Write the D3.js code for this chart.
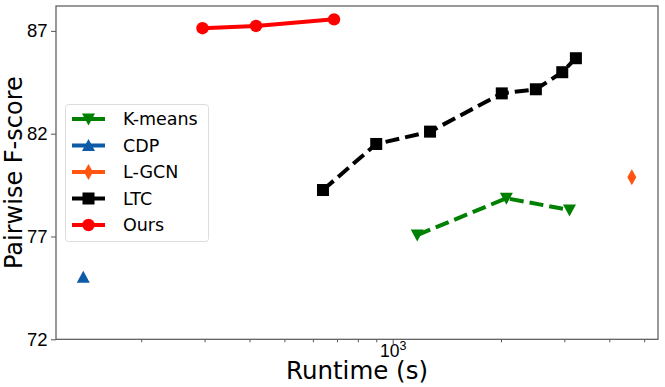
<!DOCTYPE html>
<html><head><meta charset="utf-8">
<script src="https://cdn.jsdelivr.net/npm/d3@7"></script>
<style>
html,body{margin:0;padding:0;background:#fff;}
svg{display:block;font-family:"DejaVu Sans",sans-serif;}
</style></head>
<body><svg id="c" width="665" height="387"></svg>
<script>
const seriesNames = ["K-means","CDP","L-GCN","LTC","Ours"];
const kmeansX = [1170, 2070, 3100];
const kmeansY = [77.07, 78.86, 78.29];
const cdpX = [138];
const cdpY = [75.02];
const lgcnX = [4620];
const lgcnY = [79.88];
const ltcX = [640, 900, 1270, 2010, 2500, 2960, 3230];
const ltcY = [79.26, 81.5, 82.1, 83.96, 84.16, 84.99, 85.67];
const oursX = [296, 417, 687];
const oursY = [87.13, 87.24, 87.56];
const yTicks = [72, 77, 82, 87];
const xMajorTicks = [1000];
const xMinorTicks = [200,300,400,500,600,700,800,900,2000,3000,4000,5000];

const L=56, R=658, T=6, B=339.3;
const svg = d3.select("#c");
const x = d3.scaleLog().domain([115.9, 5463]).range([L, R]);
const y = d3.scaleLinear().domain([72, 88.21]).range([B, T]);

const axCol = "#555";
// axes
const gx = svg.append("g").attr("transform",`translate(0,${B})`);
gx.call(d3.axisBottom(x).tickValues(xMinorTicks).tickSize(3).tickFormat(""));
const gxM = svg.append("g").attr("transform",`translate(0,${B})`);
gxM.call(d3.axisBottom(x).tickValues(xMajorTicks).tickSize(5).tickFormat(""));
gxM.selectAll(".tick").append("text")
  .attr("y", 17.8).attr("fill","#000").attr("text-anchor","middle")
  .style("font-size","17.5px")
  .html(d => "10<tspan dy='-7' font-size='12.5px'>" + Math.round(Math.log10(d)) + "</tspan>");
const gy = svg.append("g").attr("transform",`translate(${L},0)`);
gy.call(d3.axisLeft(y).tickValues(yTicks).tickSize(5).tickPadding(3.5));
gy.selectAll("text").style("font-size","18.5px").attr("fill","#000");
[gx,gxM,gy].forEach(g=>{g.select(".domain").remove(); g.selectAll(".tick line").attr("stroke",axCol).attr("stroke-width",1);});
svg.append("rect").attr("x",L).attr("y",T).attr("width",R-L).attr("height",B-T)
  .attr("fill","none").attr("stroke",axCol).attr("stroke-width",1.2);

// labels
svg.append("text").attr("x",(L+R)/2).attr("y",378.5).attr("text-anchor","middle")
  .style("font-size","24.5px").text("Runtime (s)");
svg.append("text").attr("transform",`translate(22,${(T+B)/2}) rotate(-90)`).attr("text-anchor","middle")
  .style("font-size","24px").text("Pairwise F-score");

const zip = (a,b)=>a.map((v,i)=>[v,b[i]]);
const series = [
  {name:"K-means", pts:zip(kmeansX,kmeansY), color:"#008000", dash:"14,6", marker:"tdown"},
  {name:"CDP", pts:zip(cdpX,cdpY), color:"#0d5aa7", dash:null, marker:"tup"},
  {name:"L-GCN", pts:zip(lgcnX,lgcnY), color:"#ff5511", dash:null, marker:"diamond"},
  {name:"LTC", pts:zip(ltcX,ltcY), color:"#000000", dash:"14,6", marker:"square"},
  {name:"Ours", pts:zip(oursX,oursY), color:"#ff0000", dash:null, marker:"circle"}
];
function marker(g, type, cx, cy, color){
  let s;
  if(type==="circle") s = g.append("circle").attr("cx",cx).attr("cy",cy).attr("r",6.2);
  else if(type==="square") s = g.append("rect").attr("x",cx-6).attr("y",cy-6).attr("width",12).attr("height",12);
  else if(type==="tdown") s = g.append("path").attr("d",`M${cx-6.5},${cy-5.5}L${cx+6.5},${cy-5.5}L${cx},${cy+6.5}Z`);
  else if(type==="tup") s = g.append("path").attr("d",`M${cx-6.5},${cy+5.5}L${cx+6.5},${cy+5.5}L${cx},${cy-6.5}Z`);
  else if(type==="diamond") s = g.append("path").attr("d",`M${cx},${cy-8}L${cx+4.5},${cy}L${cx},${cy+8}L${cx-4.5},${cy}Z`);
  s.attr("fill",color);
}
const line = d3.line().x(d=>x(d[0])).y(d=>y(d[1]));
series.forEach(s=>{
  const g = svg.append("g");
  if(s.pts.length>1){
    g.append("path").attr("d",line(s.pts)).attr("fill","none").attr("stroke",s.color)
      .attr("stroke-width",4).attr("stroke-dasharray",s.dash);
  }
  s.pts.forEach(p=>marker(g,s.marker,x(p[0]),y(p[1]),s.color));
});

// legend
const lg = svg.append("g");
lg.append("rect").attr("x",65.5).attr("y",104.5).attr("width",143).attr("height",137).attr("rx",3)
  .attr("fill","#fff").attr("fill-opacity",0.8).attr("stroke","#ddd").attr("stroke-width",1);
series.forEach((s,i)=>{
  const cy = 119 + i*26.5;
  lg.append("line").attr("x1",72).attr("x2",105).attr("y1",cy).attr("y2",cy)
    .attr("stroke",s.color).attr("stroke-width",4);
  marker(lg,s.marker,88.5,cy,s.color);
  lg.append("text").attr("x",123).attr("y",cy).attr("dy","0.36em").style("font-size","17.5px").text(s.name);
});
</script></body></html>
